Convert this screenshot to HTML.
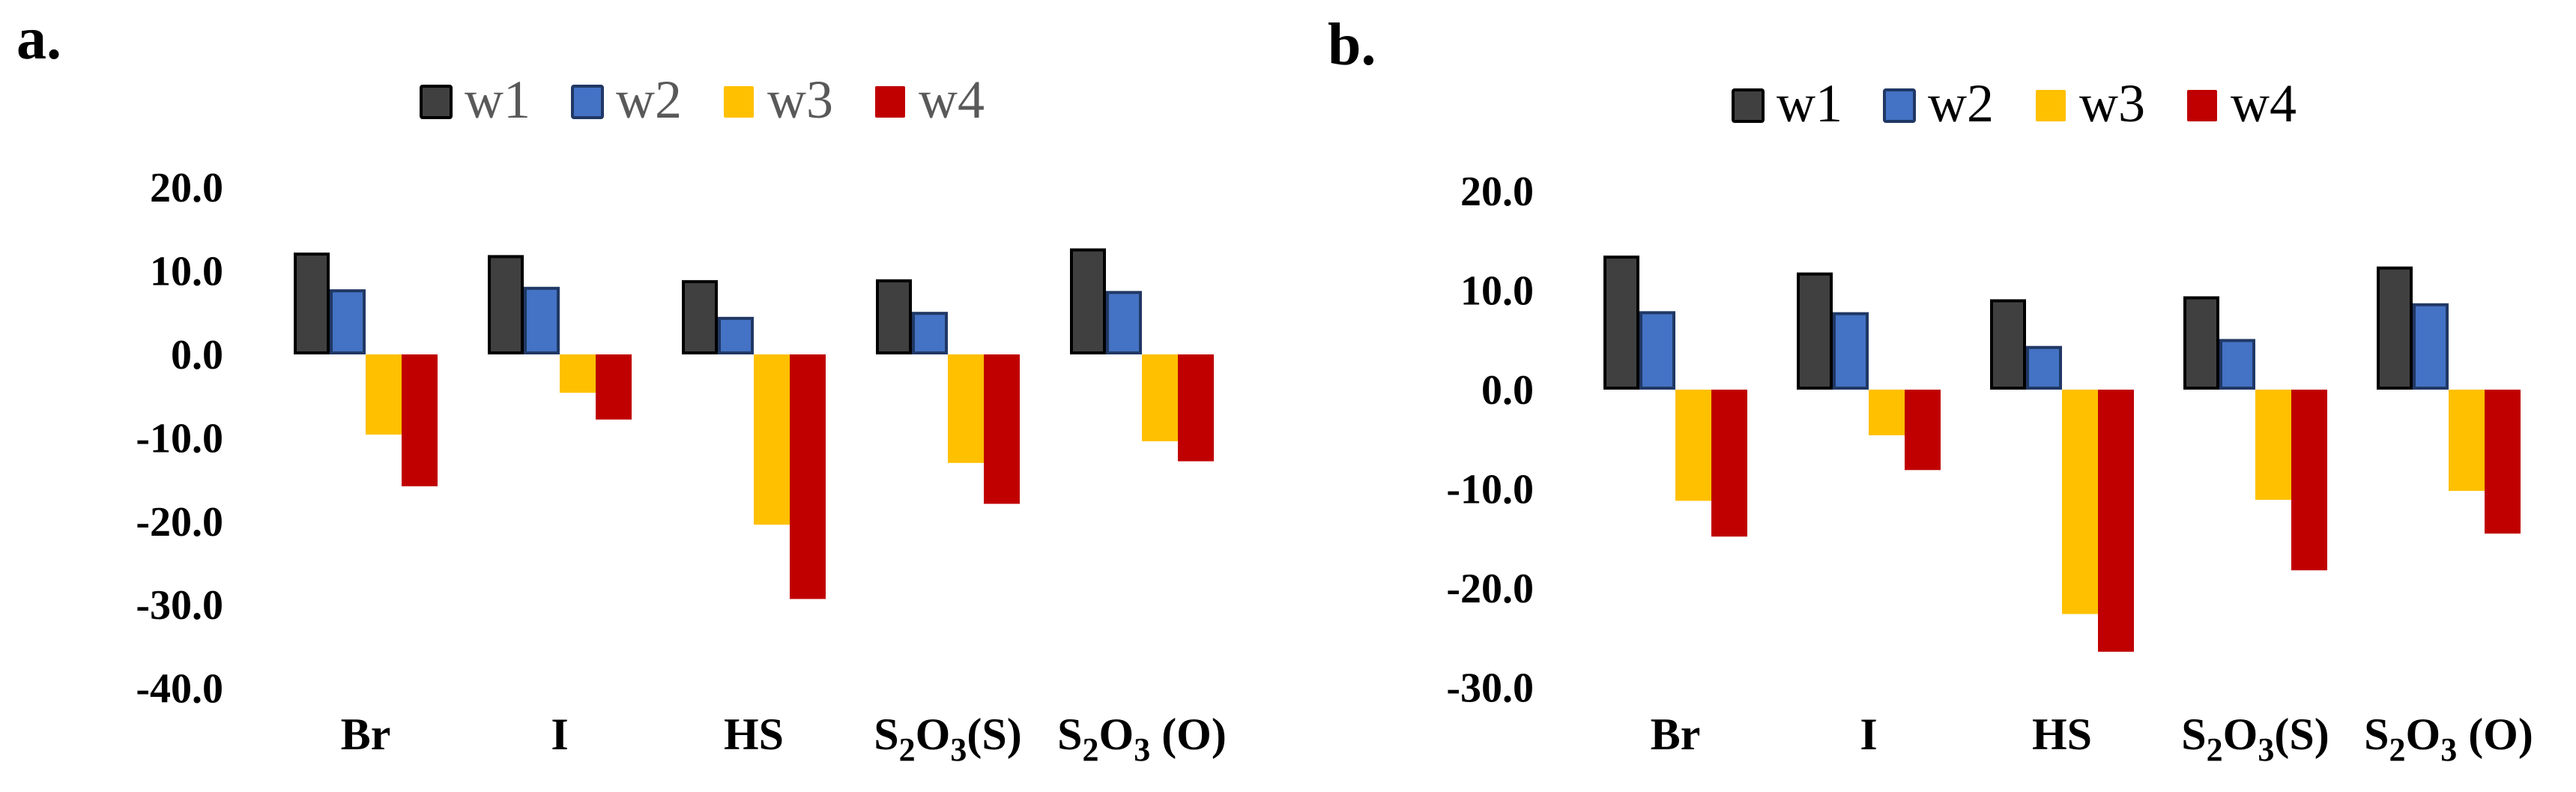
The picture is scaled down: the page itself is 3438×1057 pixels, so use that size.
<!DOCTYPE html>
<html><head><meta charset="utf-8"><style>
html,body{margin:0;padding:0;background:#fff;}
svg{display:block;}
text{font-family:"Liberation Serif",serif;}
</style></head><body>
<svg id="s" width="3438" height="1057" viewBox="0 0 3438 1057"></svg>
<script>
const categories = ["Br","I","HS","S2O3(S)","S2O3 (O)"];
const seriesNames = ["w1","w2","w3","w4"];
const aW1 = [12.2, 11.9, 8.9, 9.0, 12.7];
const aW2 = [7.8, 8.1, 4.5, 5.1, 7.6];
const aW3 = [-9.6, -4.6, -20.4, -13.0, -10.4];
const aW4 = [-15.8, -7.8, -29.3, -17.9, -12.8];
const bW1 = [13.5, 11.8, 9.1, 9.4, 12.4];
const bW2 = [7.9, 7.8, 4.4, 5.1, 8.7];
const bW3 = [-11.2, -4.6, -22.6, -11.1, -10.2];
const bW4 = [-14.8, -8.1, -26.4, -18.2, -14.5];
const aTicks = [20, 10, 0, -10, -20, -30, -40];
const bTicks = [20, 10, 0, -10, -20, -30];

const NS = "http://www.w3.org/2000/svg";
const svg = document.getElementById('s');
const fills = ["#404040","#4472C4","#FFC000","#C00000"];
const strokes = ["#000000","#203864","none","none"];
function mk(tag, attrs, parent){
  const e = document.createElementNS(NS, tag);
  for (const k in attrs) e.setAttribute(k, attrs[k]);
  (parent||svg).appendChild(e);
  return e;
}
function catLabel(g, txt, x, y){
  const t = mk('text', {x:x, y:y, 'text-anchor':'middle', 'font-size':60, 'font-weight':'bold', fill:'#000'}, g);
  
  
  if (txt.startsWith("S2O3")) {
    const rest = txt.slice(4);
    const parts = [["S",0],["2",1],["O",0],["3",1],[rest,0]];
    parts.forEach((p,i)=>{
      const ts = mk('tspan', p[1] ? {'font-size':44, dy:15} : {dy: i>0 ? -15 : 0}, t);
      ts.textContent = p[0];
    });
  } else t.textContent = txt;
}
function panel(opts){
  const g = mk('g', {});
  
  
  const y = v => opts.zero - v * opts.ppu;
  const t = mk('text', {x:opts.titleX, y:opts.titleY, 'font-size':80, 'font-weight':'bold', fill:'#000'}, g);
  
  
  t.textContent = opts.title;
  seriesNames.forEach((n,i)=>{
    const lx = opts.legX + i*202;
    const r = mk('rect', {x:lx+2, y:opts.legY+2, width:40, height:42, fill:fills[i], stroke:strokes[i], 'stroke-width':strokes[i]==="none"?0:4, rx:2}, g);
    
    
    const lt = mk('text', {x:lx+60, y:opts.legY+44, 'font-size':72, fill:opts.legColor}, g);
    
    
    lt.textContent = n;
  });
  opts.ticks.forEach(v=>{
    const tt = mk('text', {x:opts.labX, y:y(v)+19, 'text-anchor':'end', 'font-size':56, 'font-weight':'bold', fill:'#000'}, g);
    
    
    tt.textContent = v.toFixed(1);
  });
  const bw = 48;
  categories.forEach((c,ci)=>{
    const cx = opts.firstCenter + ci*opts.gap;
    opts.series.forEach((arr,si)=>{
      const v = arr[ci];
      const x0 = cx - 2*bw + si*bw;
      const top = Math.min(y(v), y(0)), h = Math.abs(y(v)-y(0));
      const sw = strokes[si]==="none"?0:4;
      const r = mk('rect', {x:x0+sw/2, y:top+sw/2, width:bw-sw, height:Math.max(0,h-sw), fill:fills[si], stroke:strokes[si], 'stroke-width':sw}, g);
      
      
    });
    catLabel(g, c, cx, opts.catY);
  });
}
panel({name:'chart-a', title:'a.', titleX:22, titleY:78, legX:560, legY:113, legColor:'#595959',
  zero:473, ppu:11.14, ticks:aTicks, labX:298, firstCenter:488, gap:259, catY:1000,
  series:[aW1,aW2,aW3,aW4]});
panel({name:'chart-b', title:'b.', titleX:1772, titleY:86, legX:2311, legY:118, legColor:'#000',
  zero:520, ppu:13.25, ticks:bTicks, labX:2047, firstCenter:2236, gap:258, catY:1000,
  series:[bW1,bW2,bW3,bW4]});
</script>
</body></html>
